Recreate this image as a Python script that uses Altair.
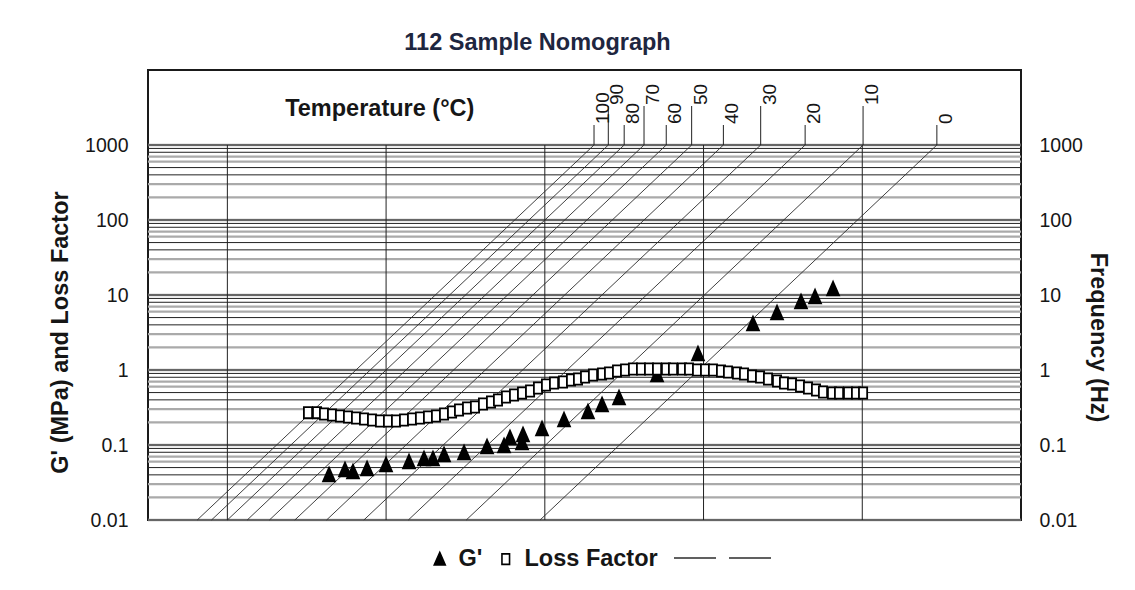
import altair as alt
import pandas as pd

# ---------------- data ----------------
# x = position along the (unlabelled) reduced-frequency axis, in decades
g_x = [2.281, 2.482, 2.583, 2.760, 2.999, 3.289, 3.478, 3.591, 3.730, 3.982,
       4.272, 4.486, 4.561, 4.713, 4.725, 4.965, 5.242, 5.544, 5.721, 5.935,
       6.414, 6.930, 7.623, 7.926, 8.228, 8.405, 8.632]
g_val = [0.0398, 0.0464, 0.0436, 0.0479, 0.0541, 0.0593, 0.065, 0.065, 0.0736, 0.0782,
         0.094, 0.097, 0.124, 0.106, 0.136, 0.163, 0.215, 0.275, 0.342, 0.423,
         0.858, 1.63, 4.10, 5.75, 8.07, 9.4, 12.0]

lf_x = [2.016, 2.130, 2.218, 2.319, 2.419, 2.520, 2.621, 2.722, 2.823, 2.923,
        3.024, 3.125, 3.226, 3.327, 3.427, 3.528, 3.629, 3.730, 3.831, 3.919,
        4.020, 4.120, 4.221, 4.322, 4.410, 4.511, 4.612, 4.713, 4.814, 4.914,
        5.015, 5.116, 5.229, 5.330, 5.418, 5.507, 5.607, 5.721, 5.809, 5.910,
        6.011, 6.111, 6.212, 6.313, 6.414, 6.527, 6.615, 6.729, 6.817, 6.918,
        7.019, 7.119, 7.220, 7.308, 7.422, 7.510, 7.611, 7.712, 7.812, 7.926,
        8.014, 8.115, 8.216, 8.316, 8.417, 8.505, 8.619, 8.707, 8.821, 8.921,
        9.010]
lf_val = [0.270, 0.270, 0.259, 0.251, 0.244, 0.236, 0.229, 0.222, 0.216, 0.209,
          0.209, 0.209, 0.216, 0.222, 0.229, 0.236, 0.244, 0.259, 0.275, 0.293,
          0.311, 0.321, 0.352, 0.374, 0.398, 0.437, 0.464, 0.493, 0.525, 0.575,
          0.631, 0.671, 0.692, 0.736, 0.759, 0.807, 0.858, 0.885, 0.912, 0.970,
          1.0, 1.03, 1.03, 1.03, 1.03, 1.03, 1.03, 1.03, 1.03, 1.0,
          1.0, 1.0, 0.970, 0.941, 0.912, 0.885, 0.832, 0.807, 0.759, 0.714,
          0.671, 0.651, 0.612, 0.575, 0.541, 0.509, 0.493, 0.493, 0.493, 0.493,
          0.493]

# temperature isotherms: where each line meets the 1000 Hz line
temps = [100, 90, 80, 70, 60, 50, 40, 30, 20, 10, 0]
temp_top = [5.62, 5.80, 6.00, 6.25, 6.53, 6.85, 7.25, 7.72, 8.28, 9.01, 9.94]

y_ticks = [0.01, 0.1, 1, 10, 100, 1000]
x_grid = [1, 3, 5, 7, 9]
x_domain = [0, 11]
y_domain = [0.01, 10000]

TITLE = "112 Sample Nomograph"
Y_TITLE = "G' (MPa) and Loss Factor"
Y2_TITLE = "Frequency (Hz)"
T_TITLE = "Temperature (\u00b0C)"
SERIES = ["G'", "Loss Factor"]

# ---------------- style ----------------
W, H = 873, 450
NARROW = "Liberation Sans Narrow, Arial Narrow, Liberation Sans, Arial"
SANS = "Liberation Sans, Arial, Helvetica"
INK = "#161616"
BOLD_SIZE = 23.5

xs = alt.Scale(domain=x_domain, nice=False, zero=False)
ys = alt.Scale(type="log", domain=y_domain, nice=False)

# ---------------- tables ----------------
hgrid = []
for d in y_ticks[:-1]:
    for m in range(1, 10):
        tone = "dark" if m in (1, 4, 5, 8, 9) else "grey"
        hgrid.append({"v": d * m, "tone": tone, "decade": m == 1})
hgrid.append({"v": y_ticks[-1], "tone": "dark", "decade": True})
hgrid = pd.DataFrame(hgrid)

vgrid = pd.DataFrame({"x": x_grid, "lo": y_ticks[0], "hi": y_ticks[-1]})

span = 5  # decades between 0.01 and 1000
iso = pd.DataFrame({
    "temp": temps,
    "top": temp_top,
    "bottom": [t - span for t in temp_top],
    "lo": y_ticks[0],
    "hi": y_ticks[-1],
    "kind": "a",
})
# staggered label leaders (alternately long / short above the 1000 line)
iso["lead"] = [y_ticks[-1] * 10 ** ((39 if i % 2 else 20) / 75) for i in range(len(temps))]

pts = pd.concat([
    pd.DataFrame({"series": SERIES[0], "x": g_x, "val": g_val}),
    pd.DataFrame({"series": SERIES[1], "x": lf_x, "val": lf_val}),
], ignore_index=True)

tlab = pd.DataFrame({"t": [T_TITLE], "x": [2.92], "y": [3000]})

# ---------------- axes ----------------
def yaxis(orient, title, pad, tx, ty, ang):
    return alt.Axis(
        orient=orient, values=y_ticks, format="~g", grid=False, ticks=False,
        domain=False, labelFlush=False, labelFont=NARROW, labelFontSize=19.5,
        labelColor=INK, labelPadding=pad, title=title, titleFont=SANS,
        titleFontSize=BOLD_SIZE, titleFontWeight="bold", titleColor=INK,
        titleAngle=ang, titleX=tx, titleY=ty, titleAlign="center",
        titleBaseline="middle",
    )

left_axis = yaxis("left", Y_TITLE, 20, -88, 262, 270)
right_axis = yaxis("right", Y2_TITLE, 18, 76, 267, 90)

def Y(field):
    return alt.Y(field, scale=ys, axis=left_axis)

# ---------------- layers ----------------
grey_lines = alt.Chart(hgrid).transform_filter("datum.tone == 'grey' || datum.decade").mark_rule(
    color="#aaaaaa", strokeWidth=2.3
).encode(y=Y("v:Q"))

dark_lines = alt.Chart(hgrid).transform_filter("datum.tone == 'dark'").mark_rule(
    color="#222222", strokeWidth=1
).encode(y=Y("v:Q"))

vlines = alt.Chart(vgrid).mark_rule(color="#222222", strokeWidth=1).encode(
    x=alt.X("x:Q", scale=xs, axis=None),
    y=Y("lo:Q"),
    y2="hi:Q",
)

iso_lines = alt.Chart(iso).mark_rule(strokeWidth=0.9).encode(
    x=alt.X("bottom:Q", scale=xs, axis=None),
    x2="top:Q",
    y=Y("lo:Q"),
    y2="hi:Q",
    color=alt.Color(
        "kind:N",
        scale=alt.Scale(domain=["a", "b"], range=["#2b2b2b", "#2b2b2b"]),
        legend=alt.Legend(
            orient="none", legendX=525, legendY=466, direction="horizontal",
            title=None, symbolType="stroke", symbolSize=1764,
            symbolStrokeWidth=1.3, labelExpr="''", labelOffset=0,
            columnPadding=7, padding=0, labelFontSize=22,
        ),
    ),
)

leaders = alt.Chart(iso).mark_rule(color="#222222", strokeWidth=1).encode(
    x=alt.X("top:Q", scale=xs, axis=None),
    y=Y("hi:Q"),
    y2="lead:Q",
)

iso_text = alt.Chart(iso).mark_text(
    angle=270, align="left", baseline="top", dx=1, font=NARROW,
    fontSize=19, color=INK,
).encode(
    x=alt.X("top:Q", scale=xs, axis=None),
    y=Y("lead:Q"),
    text="temp:N",
)

t_title = alt.Chart(tlab).mark_text(
    font=SANS, fontSize=BOLD_SIZE, fontWeight="bold", color=INK,
    align="center", baseline="middle",
).encode(
    x=alt.X("x:Q", scale=xs, axis=None),
    y=Y("y:Q"),
    text="t:N",
)

TRI = "M0,-1.1L0.9,0.95L-0.9,0.95Z"
BOX = "M-0.62,-0.85L0.62,-0.85L0.62,0.85L-0.62,0.85Z"

pt_legend = alt.Legend(
    orient="none", legendX=280, legendY=477, direction="horizontal",
    title=None, labelFont=SANS, labelFontSize=BOLD_SIZE, labelFontWeight="bold",
    labelColor=INK, symbolStrokeColor="black", symbolStrokeWidth=1.6,
    symbolSize=150, labelOffset=7, columnPadding=11, padding=0,
)

points = alt.Chart(pts).mark_point(
    filled=True, strokeWidth=1.8, opacity=1, size=175
).encode(
    x=alt.X("x:Q", scale=xs, axis=None),
    y=alt.Y("val:Q", scale=ys, axis=right_axis),
    shape=alt.Shape("series:N", scale=alt.Scale(domain=SERIES, range=[TRI, BOX]),
                    legend=pt_legend),
    fill=alt.Fill("series:N", scale=alt.Scale(domain=SERIES, range=["black", "white"]),
                  legend=pt_legend),
    stroke=alt.Stroke("series:N", scale=alt.Scale(domain=SERIES, range=["black", "black"]),
                      legend=pt_legend),
)

left_group = alt.layer(grey_lines, dark_lines, vlines, iso_lines, leaders, iso_text, t_title)

chart = alt.layer(left_group, points).resolve_axis(y="independent").properties(
    width=W,
    height=H,
    autosize=alt.AutoSizeParams(type="none"),
    padding={"left": 140, "top": 62, "right": 100, "bottom": 52},
    title=alt.TitleParams(
        TITLE, font=NARROW, fontSize=BOLD_SIZE, fontWeight="bold", color="#1e2640",
        anchor="middle", dx=-47, dy=24, offset=21, baseline="alphabetic",
    ),
).configure(background="white").configure_view(stroke="#1a1a1a", strokeWidth=2)

chart.save("out.html", embed_options={"renderer": "svg", "actions": False})
